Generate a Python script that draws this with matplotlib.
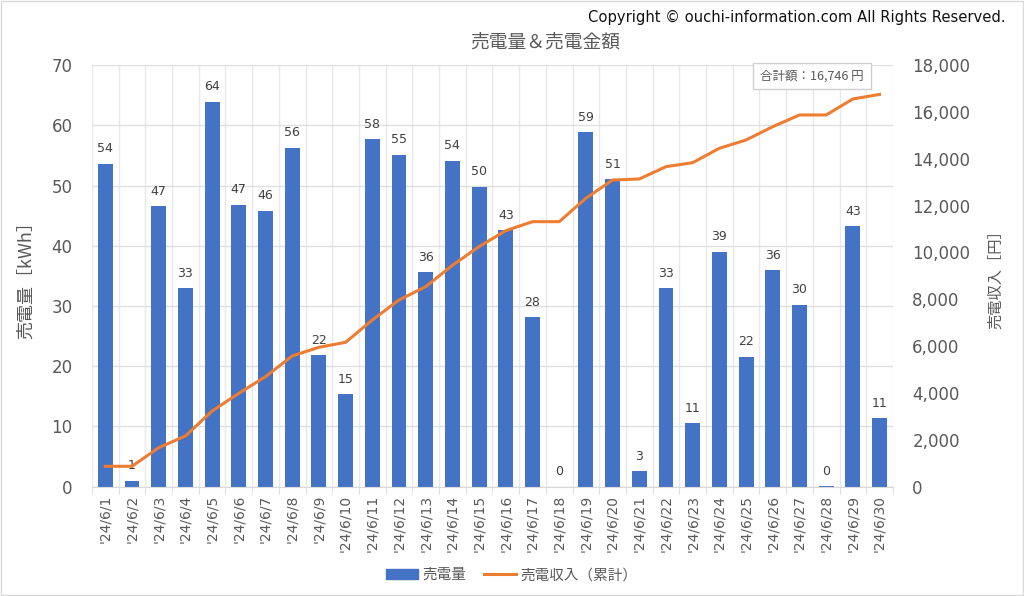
import matplotlib
matplotlib.use("Agg")
import matplotlib.pyplot as plt
from matplotlib.ticker import FuncFormatter, MultipleLocator, FixedLocator
from matplotlib.patches import Rectangle

plt.rcParams['font.family'] = ['Noto Sans CJK JP', 'DejaVu Sans']

dates = [f"'24/6/{d}" for d in range(1, 31)]
kwh = [53.6, 1.0, 46.6, 33.0, 63.9, 46.8, 45.8, 56.3, 21.8, 15.4,
       57.7, 55.1, 35.6, 54.1, 49.8, 42.6, 28.1, 0.0, 58.8, 51.1,
       2.6, 33.0, 10.6, 39.0, 21.6, 35.9, 30.2, 0.1, 43.3, 11.4]
cum_yen = [871, 871, 1665, 2164, 3230, 3987, 4696, 5580, 5950, 6163,
           7116, 7970, 8538, 9450, 10250, 10929, 11313, 11313, 12312, 13093,
           13135, 13661, 13832, 14446, 14800, 15369, 15868, 15868, 16551, 16746]
total_label = "合計額：16,746 円"

bar_color = "#4472C4"
line_color = "#ED7D31"
txt = "#595959"

fig = plt.figure(figsize=(10.24, 5.96), dpi=100)
fig.patches.append(Rectangle((0.001, 0.001), 0.998, 0.997, transform=fig.transFigure,
                             fill=False, edgecolor="#D9D9D9", linewidth=1))
ax = fig.add_axes([0.0898, 0.1834, 0.7822, 0.7075])
x = list(range(len(dates)))
bars = ax.bar(x, kwh, width=0.56, color=bar_color, zorder=2)
ax.bar_label(bars, labels=[f"{v:.0f}" for v in kwh], padding=6, fontsize=9,
             color="#404040", family=['DejaVu Sans'])
ax.set_xlim(-0.5, len(dates) - 0.5)
ax.set_ylim(0, 70)
ax.yaxis.set_major_locator(MultipleLocator(10))
ax.set_xticks(x)
ax.set_xticklabels(dates, rotation=90, fontsize=10, color=txt, family=['DejaVu Sans'])
ax.tick_params(axis='x', length=0, pad=6)
ax.xaxis.set_minor_locator(FixedLocator([i - 0.5 for i in range(len(dates) + 1)]))
ax.tick_params(axis='x', which='minor', length=5, color="#D9D9D9")
ax.tick_params(axis='y', length=0, labelsize=12, labelcolor=txt, pad=14)
for lab in ax.get_yticklabels():
    lab.set_family(['DejaVu Sans'])
ax.grid(axis='y', color="#E0E0E0", linewidth=1, zorder=0)
ax.grid(axis='x', which='minor', color="#E8E8E8", linewidth=1, zorder=0)
for s in ['top', 'right', 'left']:
    ax.spines[s].set_visible(False)
ax.spines['bottom'].set_color("#D9D9D9")
ax.set_ylabel("売電量［kWh］", fontsize=13, color=txt, labelpad=12)
ax.set_axisbelow(True)

ax2 = ax.twinx()
ln, = ax2.plot(x, cum_yen, color=line_color, linewidth=2.2, zorder=3)
ax2.set_ylim(0, 18000)
ax2.yaxis.set_major_locator(MultipleLocator(2000))
ax2.yaxis.set_major_formatter(FuncFormatter(lambda v, p: f"{v:,.0f}"))
ax2.tick_params(axis='y', length=0, labelsize=12, labelcolor=txt, pad=14)
for lab in ax2.get_yticklabels():
    lab.set_family(['DejaVu Sans'])
for s in ax2.spines.values():
    s.set_visible(False)
ax2.set_ylabel("売電収入［円］", fontsize=11, color=txt, labelpad=12)

ax2.text(0.899, 0.974, total_label, transform=ax.transAxes,
         fontsize=9, color=txt, ha='center', va='center',
         bbox=dict(boxstyle='square,pad=0.55', facecolor='white', edgecolor='#D0D0D0'))

fig.text(0.532, 0.929, "売電量＆売電金額", fontsize=13.5, color=txt, ha='center', va='center')
fig.text(0.982, 0.971, "Copyright © ouchi-information.com All Rights Reserved.",
         fontsize=10.6, color="#111111", ha='right', va='center',
         family=['DejaVu Sans'])

h_bar = Rectangle((0, 0), 1, 1, color=bar_color)
fig.legend([h_bar, ln], ["売電量", "売電収入（累計）"], loc='center', bbox_to_anchor=(0.5, 0.035),
           ncol=2, frameon=False, fontsize=10.5, labelcolor=txt, handlelength=2.2,
           handleheight=0.6, columnspacing=1.2, handletextpad=0.3)

fig.savefig("out.png", dpi=100)
